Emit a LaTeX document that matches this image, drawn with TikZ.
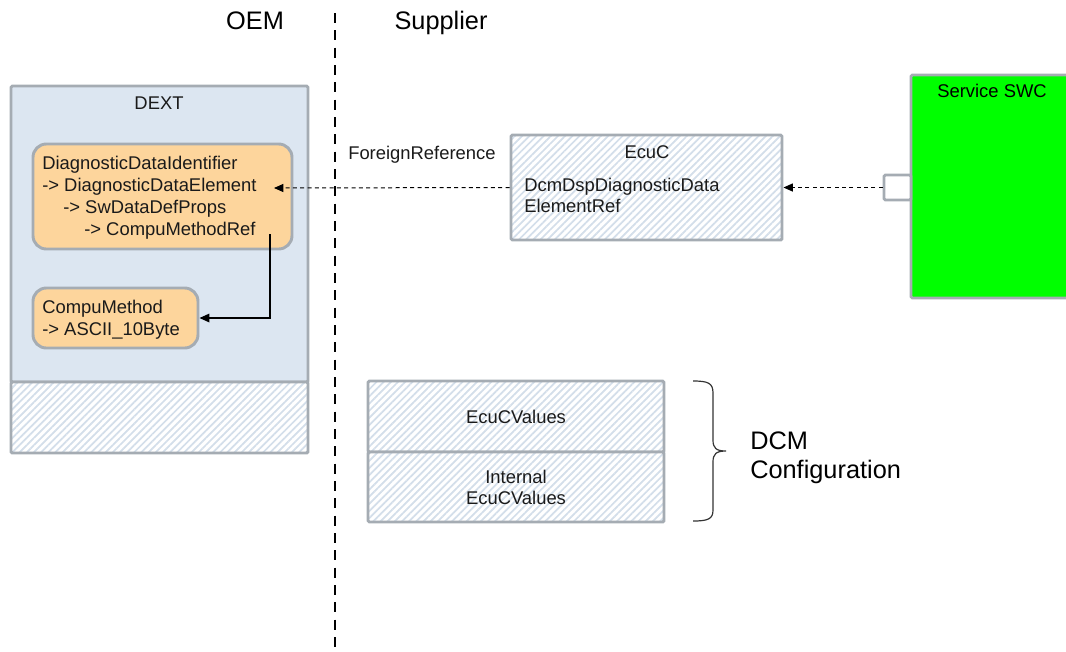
\documentclass[tikz,border=0pt]{standalone}
\usepackage{fontspec}
\setmainfont{Liberation Sans}
\usetikzlibrary{arrows.meta,patterns.meta,fit}
\definecolor{bordergray}{HTML}{A5ACB3}
\definecolor{dextblue}{HTML}{DCE6F1}
\definecolor{orangefill}{HTML}{FDD59C}
\definecolor{hatch}{HTML}{D3DEEA}
\definecolor{swcgreen}{HTML}{00FF00}
\definecolor{txtgray}{HTML}{1A1A1A}
\begin{document}
\begin{tikzpicture}[x=0.75pt,y=-0.75pt,
  frame/.style={draw=bordergray,line width=2.2pt,inner sep=0pt,rounded corners=1pt},
  hatched/.style={frame,preaction={fill=white},pattern={Lines[angle=45,distance=3.8pt,line width=1.3pt]},pattern color=hatch},
  orangebox/.style={frame,fill=orangefill,rounded corners=10pt},
  txt/.style={font=\fontsize{13.8}{16.5}\selectfont,inner sep=0pt,text=txtgray},
  bigtxt/.style={font=\fontsize{19}{23}\selectfont,inner sep=0pt,text=black},
  refline/.style={dash pattern=on 3pt off 2.5pt, line width=0.75pt, -{Triangle[length=7pt,width=6pt]}},
]
\useasboundingbox (0,0) rectangle (1066,651);

% divider
\coordinate (divtop) at (335,13);
\coordinate (divbot) at (335,648);
\draw[line width=1.7pt, dash pattern=on 7.5pt off 5.5pt] (divtop) -- (divbot);
\node[bigtxt,anchor=base] (oem) at (255,29) {OEM};
\node[bigtxt,anchor=base] (supplier) at (441,29) {Supplier};

% DEXT
\node[frame,fill=dextblue,fit={(11,86) (308,382)}] (dext) {};
\node[hatched,fit={(11,382) (308,453)}] (dextlow) {};
\node[txt,anchor=base] (dextlbl) at (159,109) {DEXT};

\node[orangebox,fit={(33,144) (292,249)}] (ddid) {};
\node[txt,anchor=base west] (l1) at (42,169) {DiagnosticDataIdentifier};
\node[txt,anchor=base west] (l2) at (42,191) {-> DiagnosticDataElement};
\node[txt,anchor=base west] (l3) at (63,213) {-> SwDataDefProps};
\node[txt,anchor=base west] (l4) at (84,235) {-> CompuMethodRef};

\node[orangebox,fit={(33,288) (198,348)}] (cm) {};
\node[txt,anchor=base west] (c1) at (42,313) {CompuMethod};
\node[txt,anchor=base west] (c2) at (42,335) {-> ASCII\_10Byte};

\coordinate (cmstart) at (270,234);
\draw[line width=0.9pt,-{Triangle[length=7.5pt,width=6.5pt]}] (cmstart) |- (cm.east);

% EcuC
\node[hatched,fit={(511,135) (782,240)}] (ecuc) {};
\node[txt,anchor=base] (ecuclbl) at (647,158) {EcuC};
\node[txt,anchor=base west] (e1) at (524,191) {DcmDspDiagnosticData};
\node[txt,anchor=base west] (e2) at (524,212) {ElementRef};
\node[txt,anchor=base west] (foreign) at (348,159) {ForeignReference};

\coordinate (fr) at (274,188);
\draw[refline] (ecuc.west) -- (fr);

% Service SWC
\node[frame,fill=swcgreen,fit={(911,75) (1080,298)}] (swc) {};
\node[txt,anchor=base,text=black] (swclbl) at (992,97) {Service SWC};
\node[frame,fill=white,fit={(884,175) (911,200)}] (port) {};
\draw[refline] (port.west) -- (ecuc.east);

% EcuC values
\node[hatched,fit={(368,381) (664,452)}] (vals) {};
\node[hatched,fit={(368,452) (664,522)}] (ivals) {};
\node[txt,anchor=base] (v1) at (516,423) {EcuCValues};
\node[txt,anchor=base] (iv1) at (516,483) {Internal};
\node[txt,anchor=base] (iv2) at (516,504) {EcuCValues};

% brace
\draw[line width=0.9pt,black!80] (693,381) .. controls (708,381) and (713,383) .. (713,393)
  -- (713,440) .. controls (713,448) and (716,451) .. (726,451)
  .. controls (716,451) and (713,454) .. (713,462)
  -- (713,510) .. controls (713,519) and (708,521) .. (693,521);
\node[bigtxt,anchor=base west] (dcm1) at (750,449) {DCM};
\node[bigtxt,anchor=base west] (dcm2) at (750,478) {Configuration};
\end{tikzpicture}
\end{document}
